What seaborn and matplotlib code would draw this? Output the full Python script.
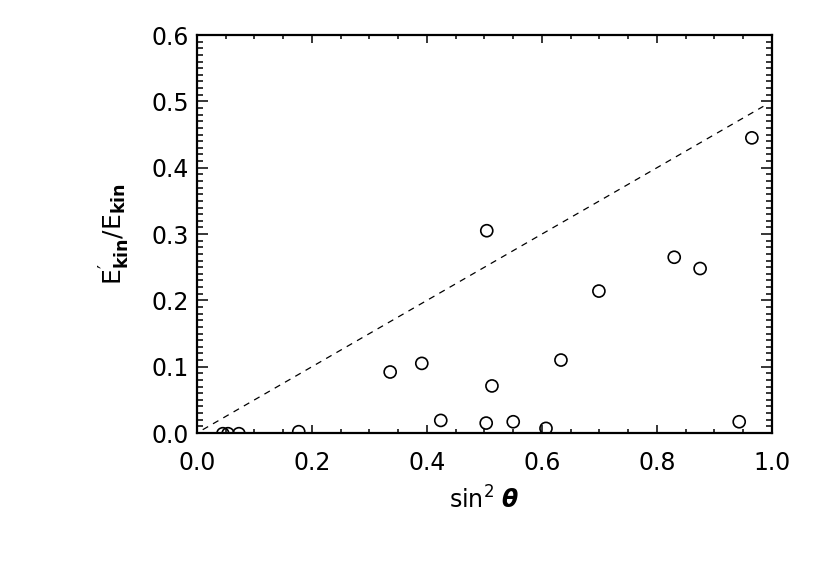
import numpy as np
import pandas as pd
import matplotlib
matplotlib.use("Agg")
import matplotlib.pyplot as plt
import seaborn as sns
from matplotlib.ticker import MultipleLocator, FormatStrFormatter

# datos
sin2_theta = [0.045, 0.054, 0.073, 0.177, 0.336, 0.391, 0.424, 0.503, 0.504,
              0.513, 0.550, 0.607, 0.633, 0.699, 0.830, 0.875, 0.943, 0.965]
ekin_ratio = [-0.001, -0.001, -0.001, 0.002, 0.092, 0.105, 0.019, 0.015, 0.305,
              0.071, 0.017, 0.007, 0.110, 0.214, 0.265, 0.248, 0.017, 0.445]

# linea de referencia y = x/2
linea_x = [0.01, 0.985]
linea_y = [0.005, 0.4925]

df = pd.DataFrame({'s2': sin2_theta, 'r': ekin_ratio})

sns.set_style("ticks", rc={'axes.edgecolor': 'black', 'text.color': 'black',
                           'axes.labelcolor': 'black', 'xtick.color': 'black',
                           'ytick.color': 'black'})
plt.rcParams['font.family'] = ['DejaVu Sans']
plt.rcParams['mathtext.fontset'] = 'custom'
plt.rcParams['mathtext.rm'] = 'DejaVu Sans'
plt.rcParams['mathtext.it'] = 'DejaVu Sans:italic'
plt.rcParams['mathtext.bf'] = 'DejaVu Sans:bold'
plt.rcParams['mathtext.bfit'] = 'DejaVu Sans:bold:italic'

fig = plt.figure(figsize=(8.3, 5.87), dpi=100)
ax = fig.add_axes([0.2373, 0.2623, 0.6928, 0.6780])

sns.scatterplot(data=df, x='s2', y='r', ax=ax, marker='o', s=75,
                facecolor='none', edgecolor='black', linewidth=1.2)
sns.lineplot(x=linea_x, y=linea_y, ax=ax, color='black', linewidth=0.9,
             linestyle=(0, (5, 4.5)))

ax.set_xlim(0, 1.0)
ax.set_ylim(0, 0.6)
ax.xaxis.set_major_locator(MultipleLocator(0.2))
ax.xaxis.set_minor_locator(MultipleLocator(0.05))
ax.yaxis.set_major_locator(MultipleLocator(0.1))
ax.yaxis.set_minor_locator(MultipleLocator(0.01))
ax.xaxis.set_major_formatter(FormatStrFormatter('%.1f'))
ax.yaxis.set_major_formatter(FormatStrFormatter('%.1f'))

for s in ax.spines.values():
    s.set_linewidth(1.6)
    s.set_color('black')
    s.set_visible(True)
ax.tick_params(which='both', direction='in', top=True, right=True,
               labelsize=17, color='black', labelcolor='black', width=1.1)
ax.tick_params(axis='x', which='major', length=6, pad=13)
ax.tick_params(axis='x', which='minor', length=3)
ax.tick_params(axis='y', which='major', length=8, pad=6)
ax.tick_params(axis='y', which='minor', length=4)

ax.set_xlabel(r'sin$^{\mathsf{2}}$ $\mathbfit{\theta}$', fontsize=17, labelpad=8,
              color='black')
ax.set_ylabel(r"$\mathrm{E}^{\prime}_{\mathbf{kin}}/\mathrm{E}_{\mathbf{kin}}$",
              fontsize=18, labelpad=14, color='black')

fig.savefig('out.png', dpi=100)
